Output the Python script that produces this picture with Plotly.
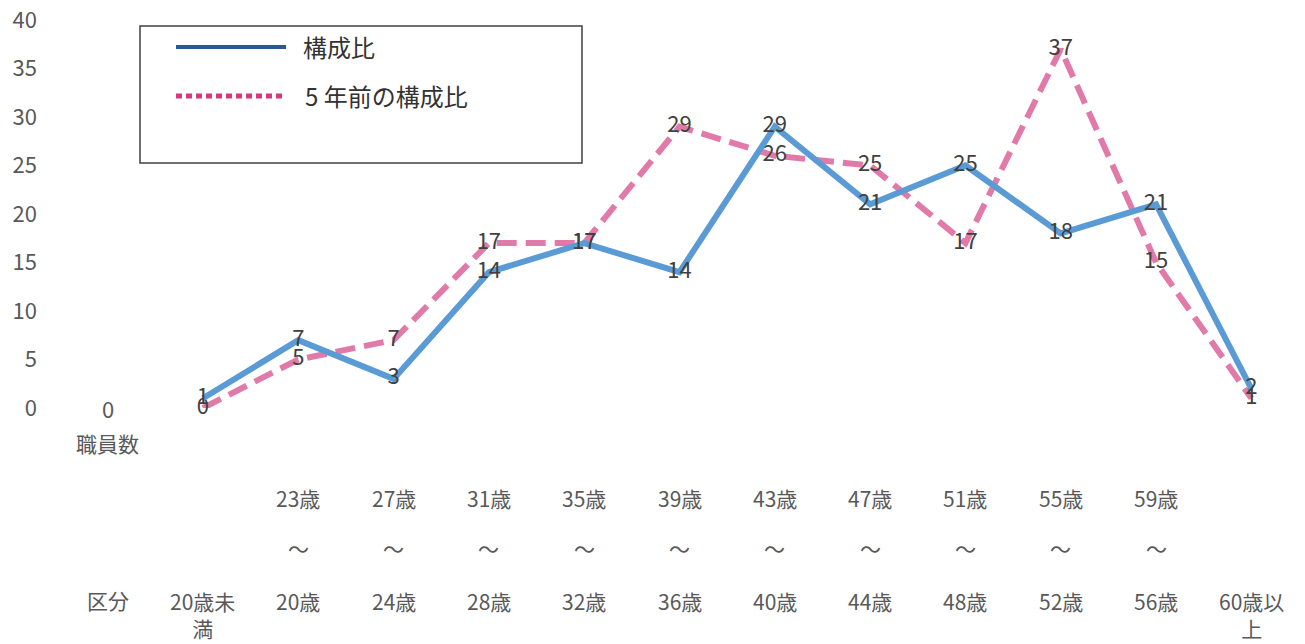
import plotly.graph_objects as go

# ---- data ----
categories = ["20歳未満", "20歳〜23歳", "24歳〜27歳", "28歳〜31歳", "32歳〜35歳", "36歳〜39歳",
              "40歳〜43歳", "44歳〜47歳", "48歳〜51歳", "52歳〜55歳", "56歳〜59歳", "60歳以上"]
label_top = ["", "23歳", "27歳", "31歳", "35歳", "39歳", "43歳", "47歳", "51歳", "55歳", "59歳", ""]
label_bottom = ["20歳未<br>満", "20歳", "24歳", "28歳", "32歳", "36歳", "40歳", "44歳", "48歳", "52歳", "56歳", "60歳以<br>上"]
current_ratio = [1, 7, 3, 14, 17, 14, 29, 21, 25, 18, 21, 2]
prior_ratio = [0, 5, 7, 17, 17, 29, 26, 25, 17, 37, 15, 1]
header_value = 0
series_names = ["構成比", "5 年前の構成比"]
y_ticks = [0, 5, 10, 15, 20, 25, 30, 35, 40]

# ---- layout geometry (pixels, page coords; page body has an 8px margin) ----
OX, OY = 8, 8
W, H = 1305 - OX, 644 - OY
LEFT, TOP, BOTTOM, RIGHT = 60, 20, 408, 1299   # plot area in page pixels
ML, MT = LEFT - OX, TOP - OY
MB = H - (BOTTOM - OY)
MR = W - (RIGHT - OX)
PW = W - ML - MR
PH = H - MT - MB


def px_x(px):
    return (px - LEFT) / PW


def px_y(py):
    return (BOTTOM - py) / PH


FONT = "Noto Sans CJK JP"
TXT = "#595959"
positions = list(range(1, len(categories) + 1))

fig = go.Figure()
fig.add_trace(go.Scatter(
    x=positions, y=prior_ratio, mode="lines+text", name=series_names[1],
    line=dict(color="#E27AA9", width=6, dash="20px,9px"),
    text=[str(v) for v in prior_ratio], textposition="middle center",
    textfont=dict(family=FONT, size=22, color="#404040"),
    cliponaxis=False, showlegend=False, hoverinfo="skip"))
fig.add_trace(go.Scatter(
    x=positions, y=current_ratio, mode="lines+text", name=series_names[0],
    line=dict(color="#5B9BD5", width=6),
    text=[str(v) for v in current_ratio], textposition="middle center",
    textfont=dict(family=FONT, size=22, color="#404040"),
    cliponaxis=False, showlegend=False, hoverinfo="skip"))

annotations = []
# header column
annotations.append(dict(x=0, y=header_value, xref="x", yref="y", text=str(header_value), showarrow=False,
                        font=dict(family=FONT, size=22, color=TXT), yanchor="middle"))
annotations.append(dict(x=0, y=px_y(443), xref="x", yref="paper", text="職員数", showarrow=False,
                        font=dict(family=FONT, size=21, color=TXT), yanchor="middle"))
annotations.append(dict(x=0, y=px_y(600), xref="x", yref="paper", text="区分", showarrow=False,
                        font=dict(family=FONT, size=21, color=TXT), yanchor="middle"))
for pos, top, bot in zip(positions, label_top, label_bottom):
    if top:
        annotations.append(dict(x=pos, y=px_y(498), xref="x", yref="paper", text=top, showarrow=False,
                                font=dict(family=FONT, size=21, color=TXT), yanchor="middle"))
        annotations.append(dict(x=pos, y=px_y(548), xref="x", yref="paper", text="〜", showarrow=False,
                                font=dict(family=FONT, size=21, color=TXT), yanchor="middle"))
    annotations.append(dict(x=pos, y=px_y(584), xref="x", yref="paper", text=bot, showarrow=False,
                            font=dict(family=FONT, size=21, color=TXT), yanchor="top",
                            align="center"))

# legend (manual)
shapes = [
    dict(type="rect", xref="paper", yref="paper", x0=px_x(140), x1=px_x(582), y0=px_y(26), y1=px_y(163),
         line=dict(color="#404040", width=1.5), fillcolor="white", layer="below"),
    dict(type="line", xref="paper", yref="paper", x0=px_x(176), x1=px_x(286), y0=px_y(47), y1=px_y(47),
         line=dict(color="#2F5597", width=4)),
    dict(type="line", xref="paper", yref="paper", x0=px_x(176), x1=px_x(286), y0=px_y(96), y1=px_y(96),
         line=dict(color="#D6387E", width=5, dash="6px,4px")),
]
annotations.append(dict(x=px_x(301), y=px_y(47), xref="paper", yref="paper", text=series_names[0],
                        showarrow=False, xanchor="left", yanchor="middle",
                        font=dict(family=FONT, size=24, color="#333333")))
annotations.append(dict(x=px_x(303), y=px_y(96), xref="paper", yref="paper", text=series_names[1],
                        showarrow=False, xanchor="left", yanchor="middle",
                        font=dict(family=FONT, size=24, color="#333333")))

fig.update_layout(
    width=W, height=H, margin=dict(l=ML, r=MR, t=MT, b=MB, autoexpand=False),
    paper_bgcolor="white", plot_bgcolor="white",
    xaxis=dict(range=[-0.5, 12.5], showgrid=False, zeroline=False, showline=False,
               showticklabels=False, ticks="", automargin=False),
    yaxis=dict(range=[0, 40], tickvals=y_ticks, showgrid=False, zeroline=False, showline=False,
               ticks="", ticklabelstandoff=22, ticklabeloverflow="allow", automargin=False,
               tickfont=dict(family=FONT, size=22, color=TXT)),
    shapes=shapes, annotations=annotations, showlegend=False,
)

fig.write_html("out.html")
